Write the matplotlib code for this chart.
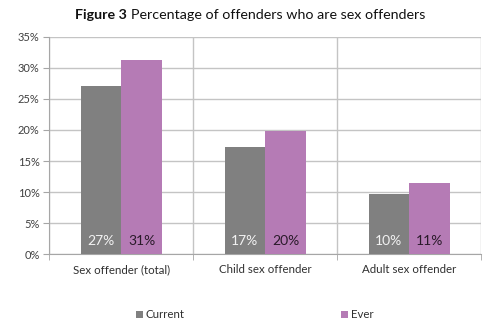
import numpy as np
import matplotlib.pyplot as plt
from matplotlib.ticker import FuncFormatter

# Donnees
categories = ["Sex offender (total)", "Child sex offender", "Adult sex offender"]
current = [27.0, 17.3, 9.7]
ever = [31.2, 19.8, 11.4]
labels_current = ["27%", "17%", "10%"]
labels_ever = ["31%", "20%", "11%"]
yticks = [0, 5, 10, 15, 20, 25, 30, 35]

plt.rcParams['font.family'] = ['Lato', 'DejaVu Sans']

fig = plt.figure(figsize=(4.85, 3.27), dpi=100)
ax = fig.add_axes([0.1016, 0.2223, 0.8908, 0.6655])

x = np.arange(len(categories))
w = 0.2825
grey = "#808080"
purple = "#b57bb5"

b1 = ax.bar(x - w / 2, current, w, color=grey, label="Current", zorder=3)
b2 = ax.bar(x + w / 2, ever, w, color=purple, label="Ever", zorder=3)

# etiquettes dans les barres
for i in range(len(categories)):
    ax.text(x[i] - w / 2, 2.2, labels_current[i], ha="center", va="center",
            color="#f2f2f2", fontsize=10, zorder=4)
    ax.text(x[i] + w / 2, 2.2, labels_ever[i], ha="center", va="center",
            color="#2a1a2a", fontsize=10, zorder=4)

ax.set_xlim(-0.5, 2.5)
ax.set_ylim(0, 35)
ax.set_yticks(yticks)
ax.yaxis.set_major_formatter(FuncFormatter(lambda v, p: f"{int(v)}%"))
ax.set_xticks(x)
ax.set_xticklabels(categories)
ax.set_xticks([-0.5, 0.5, 1.5, 2.5], minor=True)

gc = "#c4c4c4"
ax.grid(axis="y", color=gc, linewidth=1, zorder=0)
ax.grid(axis="x", which="minor", color=gc, linewidth=1, zorder=0)
ax.grid(axis="x", which="major", visible=False)

for s in ["top", "right"]:
    ax.spines[s].set_visible(False)
ax.spines["left"].set_color("#a6a6a6")
ax.spines["bottom"].set_color("#a6a6a6")

ax.tick_params(axis="y", length=4, color="#a6a6a6", labelsize=8,
               labelcolor="#404040", pad=3)
ax.tick_params(axis="x", which="major", length=0, labelsize=8.3,
               labelcolor="#303030", pad=7)
ax.tick_params(axis="x", which="minor", length=4, color="#a6a6a6")

# titre : "Figure 3" en gras puis le reste, centre sur la figure
t1 = fig.text(0, 0.955, "Figure 3", ha="left", va="center",
              fontsize=10.3, fontweight="bold", color="#111111")
t2 = fig.text(0, 0.955, "Percentage of offenders who are sex offenders",
              ha="left", va="center", fontsize=10.3, color="#111111")
fig.canvas.draw()
W = fig.bbox.width
w1 = t1.get_window_extent().width / W
w2 = t2.get_window_extent().width / W
gap = 0.008
x0 = 0.516 - (w1 + gap + w2) / 2
t1.set_x(x0)
t2.set_x(x0 + w1 + gap)

fig.legend(handles=[b1, b2], loc="center", bbox_to_anchor=(0.525, 0.037),
           ncol=2, frameon=False, fontsize=8.3, handlelength=0.6,
           handleheight=0.6, handletextpad=0.3, columnspacing=13.5,
           labelcolor="#303030")

fig.savefig("out.png", dpi=100)
